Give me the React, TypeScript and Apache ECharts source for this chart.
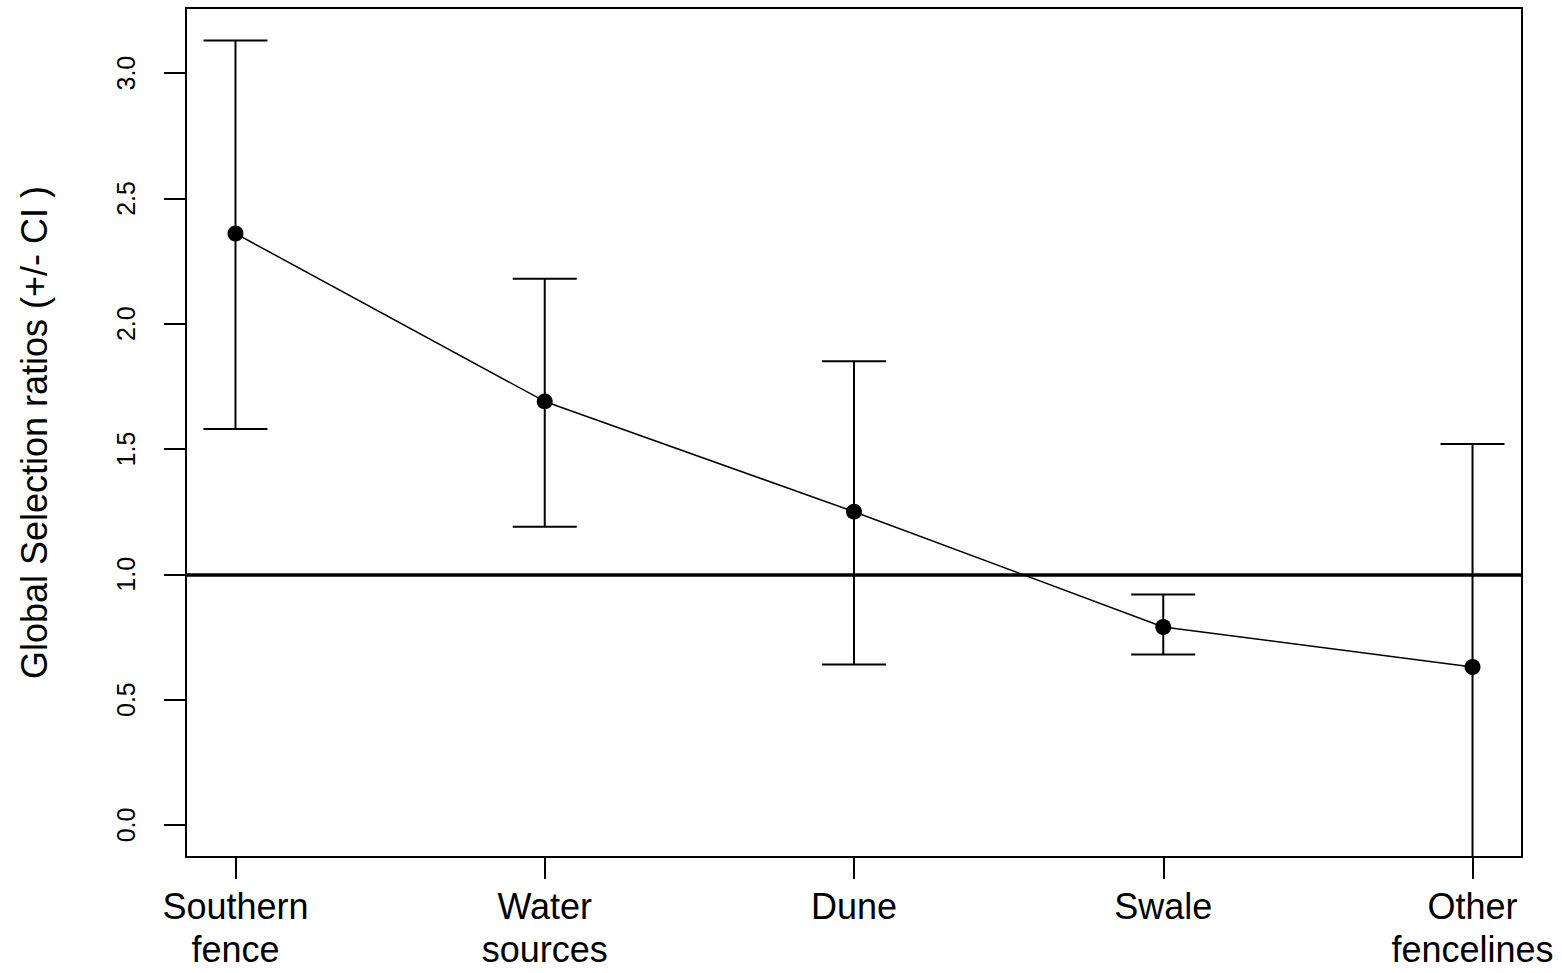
import React, { useEffect, useRef } from "react";
import * as echarts from "echarts";

const categories = ["Southern\nfence", "Water\nsources", "Dune", "Swale", "Other\nfencelines"];
const positions = [1, 2, 3, 4, 5];
const means = [2.36, 1.69, 1.25, 0.79, 0.63];
const upper = [3.13, 2.18, 1.85, 0.92, 1.52];
const lower = [1.58, 1.19, 0.64, 0.68, -0.26];
const yTicks = [0, 0.5, 1, 1.5, 2, 2.5, 3];
const referenceLevel = 1;

const FONT = "'Liberation Sans', Arial, Helvetica, sans-serif";

export default function App() {
  const ref = useRef<HTMLDivElement>(null);
  useEffect(() => {
    if (!ref.current) return;
    const chart = echarts.init(ref.current, null, { renderer: "svg" });
    const Y_MIN = -0.128;
    const Y_MAX = 3.26;
    const errData = positions.map((p, i) => [p, lower[i], upper[i]]);
    const option: any = {
      animation: false,
      backgroundColor: "#fff",
      grid: {
        left: 186,
        right: 40,
        top: 8,
        bottom: 116,
        show: true,
        borderColor: "#000",
        borderWidth: 2,
        backgroundColor: "transparent",
      },
      xAxis: {
        type: "value",
        min: 0.84,
        max: 5.16,
        splitLine: { show: false },
        axisLine: { show: false, onZero: false },
        axisTick: {
          show: true,
          customValues: positions,
          length: 22,
          lineStyle: { color: "#000", width: 2 },
        },
        axisLabel: {
          customValues: positions,
          formatter: (v: number) => categories[Math.round(v) - 1] ?? "",
          fontFamily: FONT,
          fontSize: 36,
          lineHeight: 43,
          color: "#000",
          margin: 28,
        },
      },
      yAxis: {
        type: "value",
        min: Y_MIN,
        max: Y_MAX,
        name: "Global Selection ratios (+/- CI )",
        nameLocation: "middle",
        nameRotate: 90,
        nameGap: 134,
        nameTextStyle: { fontFamily: FONT, fontSize: 36, color: "#000" },
        splitLine: { show: false },
        axisLine: { show: false, onZero: false },
        axisTick: {
          show: true,
          customValues: yTicks,
          length: 22,
          lineStyle: { color: "#000", width: 2 },
        },
        axisLabel: {
          customValues: yTicks,
          formatter: (v: number) => v.toFixed(1),
          rotate: 90,
          fontFamily: FONT,
          fontSize: 25,
          color: "#000",
          margin: 48,
        },
      },
      series: [
        {
          type: "custom",
          clip: true,
          data: errData,
          encode: { x: 0, y: [1, 2] },
          renderItem: (params: any, api: any) => {
            const x = api.value(0);
            const lo = api.value(1);
            const hi = api.value(2);
            const pLo = api.coord([x, lo]);
            const pHi = api.coord([x, hi]);
            const half = 32;
            const style = { stroke: "#000", lineWidth: 2, fill: "none" };
            return {
              type: "group",
              children: [
                { type: "line", shape: { x1: pLo[0], y1: pLo[1], x2: pHi[0], y2: pHi[1] }, style },
                { type: "line", shape: { x1: pHi[0] - half, y1: pHi[1], x2: pHi[0] + half, y2: pHi[1] }, style },
                { type: "line", shape: { x1: pLo[0] - half, y1: pLo[1], x2: pLo[0] + half, y2: pLo[1] }, style },
              ],
            };
          },
          z: 2,
        },
        {
          type: "line",
          data: positions.map((p, i) => [p, means[i]]),
          symbol: "circle",
          symbolSize: 16,
          itemStyle: { color: "#000" },
          lineStyle: { color: "#000", width: 1.5 },
          z: 3,
          markLine: {
            silent: true,
            symbol: "none",
            label: { show: false },
            lineStyle: { color: "#000", width: 3.5, type: "solid" },
            data: [{ yAxis: referenceLevel }],
          },
        },
      ],
    };
    chart.setOption(option);
    return () => chart.dispose();
  }, []);
  return (
    <div
      ref={ref}
      style={{ position: "fixed", left: 0, top: 0, width: 1562, height: 973, background: "#fff" }}
    />
  );
}
